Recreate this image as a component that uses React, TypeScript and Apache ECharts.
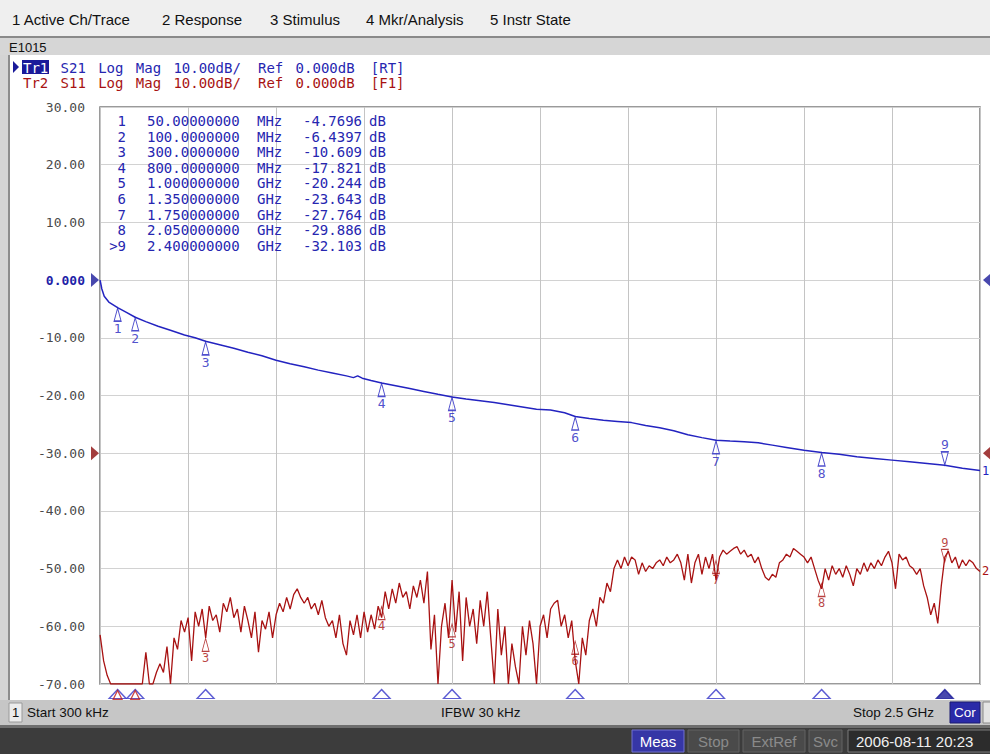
import React, { useEffect, useRef } from "react";
import * as echarts from "echarts";

// ---------------- data ----------------
const START_MHZ = 0.3;
const STOP_MHZ = 2500;

const S21_FREQ_MHZ = [
  0.3, 5, 12, 25, 50, 75, 100, 130, 165, 200, 240, 270, 300, 340, 380, 420, 460, 500, 540, 580,
  620, 660, 700, 720, 732, 745, 770, 800, 840, 880, 920, 960, 1000, 1040, 1080, 1120, 1160, 1200,
  1240, 1280, 1320, 1350, 1390, 1430, 1470, 1510, 1550, 1590, 1630, 1670, 1710, 1750, 1790, 1830,
  1870, 1910, 1950, 2000, 2050, 2100, 2150, 2200, 2250, 2300, 2350, 2400, 2450, 2500,
];
const S21_DB = [
  0, -1.5, -2.8, -3.8, -4.7696, -5.6, -6.4397, -7.2, -8.0, -8.7, -9.5, -10.0, -10.609, -11.2, -11.8,
  -12.5, -13.1, -13.9, -14.5, -15.0, -15.6, -16.1, -16.6, -16.9, -16.6, -17.0, -17.4, -17.821, -18.3,
  -18.8, -19.3, -19.8, -20.244, -20.6, -20.9, -21.2, -21.6, -22.0, -22.4, -22.5, -23.0, -23.643, -24.0,
  -24.3, -24.5, -24.7, -25.2, -25.6, -26.1, -26.8, -27.3, -27.764, -27.9, -28.0, -28.2, -28.6, -29.0,
  -29.5, -29.886, -30.2, -30.6, -30.9, -31.2, -31.5, -31.8, -32.103, -32.6, -33.0,
];

// S11 sweep values (251 points, 0.3 MHz .. 2.5 GHz)
const S11_DB = [
  -61.5, -66, -68.5, -70, -70, -70, -70, -70, -70, -70,
  -70, -70, -70, -64.5, -70, -70, -68, -66.5, -68, -63.5,
  -70, -62, -64, -59, -61, -58.5, -66, -57.5, -60, -57,
  -62, -56.5, -59, -58, -61, -56, -57.5, -55, -58.5, -57,
  -61, -56.5, -59, -62, -57.5, -64.5, -59, -60.5, -57.5, -62,
  -58, -56, -57.5, -55, -57, -54.5, -53.5, -55, -56, -55,
  -57, -56, -58, -55.5, -58.5, -60, -59, -62, -58, -63,
  -65, -59, -61.5, -58, -62, -57.5, -61, -58, -60.5, -56.5,
  -58.5, -54, -57, -53.5, -56, -52.5, -55, -54, -57, -53,
  -55, -52, -56, -50.5, -64, -58, -70, -60, -56, -62,
  -52, -61, -54, -66, -55, -60, -57, -63, -55.5, -60,
  -54, -62, -70, -57, -65, -60, -70, -63, -67, -70,
  -60, -65, -59, -63, -70, -60, -58, -62, -57, -56,
  -55.5, -60, -58, -62, -59, -66, -70, -62, -65, -59,
  -57, -60, -55, -56, -52.5, -54, -50, -48.5, -50, -48,
  -49.5, -48, -48.5, -51, -49, -50.5, -49.5, -50, -49, -48.5,
  -49.5, -48, -49, -48.5, -47.5, -49, -52, -47.5, -52.5, -49,
  -47.5, -51, -48, -50, -47.5, -52, -48, -46.8, -47.5, -47,
  -46.5, -46.2, -47.5, -46.8, -48, -47.5, -49, -48, -50, -51.5,
  -52, -51, -51.5, -49, -48.5, -47.5, -48, -46.5, -47, -47.5,
  -48, -49, -48, -50, -52, -53.5, -50, -52, -49.5, -51,
  -50, -51.5, -49.5, -51, -53, -50, -51, -49, -50.5, -49,
  -50, -48.5, -49.5, -48, -47, -49, -53.5, -47.5, -48.5, -48,
  -49.5, -50, -51, -50, -53, -55, -58, -56, -59.5, -53,
  -48, -47, -49, -48, -50, -48.5, -49.5, -48.5, -49, -50, -50.5,
];

const MARKER_IDS = ["1", "2", "3", "4", "5", "6", "7", "8", ">9"];
const MARKER_FREQ_MHZ = [50, 100, 300, 800, 1000, 1350, 1750, 2050, 2400];
const S21_MARKER_DB = [-4.7696, -6.4397, -10.609, -17.821, -20.244, -23.643, -27.764, -29.886, -32.103];
const S11_MARKER_DB = [null, null, -62, -56.5, -59.5, -62.5, -48.5, -52.5, -49];

const Y_MIN = -70;
const Y_MAX = 30;
const Y_STEP = 10;
const X_STEP = 250;

const MENU_LABELS = ["1 Active Ch/Trace", "2 Response", "3 Stimulus", "4 Mkr/Analysis", "5 Instr State"];
const WINDOW_TITLE = "E1015";
const TR1_TOKENS = ["Tr1", "S21", "Log", "Mag", "10.00dB/", "Ref", "0.000dB", "[RT]"];
const TR2_TOKENS = ["Tr2", "S11", "Log", "Mag", "10.00dB/", "Ref", "0.000dB", "[F1]"];
const STATUS_CH = "1";
const STATUS_START = "Start 300 kHz";
const STATUS_IFBW = "IFBW 30 kHz";
const STATUS_STOP = "Stop 2.5 GHz";
const STATUS_COR = "Cor";
const BOTTOM_BUTTONS = ["Meas", "Stop", "ExtRef", "Svc"];
const DATE_TEXT = "2006-08-11 20:23";

// ---------------- layout / style ----------------
const MENU_X = [12, 162, 270, 366, 490];
const TOKEN_X = [23, 60.6, 98.2, 135.8, 173.4, 258, 295.6, 370.8];
const BTN_X = [632, 688, 743, 809];
const BTN_W = [52, 51, 62, 33];
const BLUE = "#2323c0";
const TXT_BLUE = "#2626b0";
const RED = "#a81212";
const MONO = '"DejaVu Sans Mono", monospace';
const UI = '"Liberation Sans", Arial, sans-serif';

function fmtFreq(mhz: number) {
  return mhz >= 1000 ? (mhz / 1000).toPrecision(10) : mhz.toPrecision(10);
}

export default function App() {
  const ref = useRef<HTMLDivElement>(null);

  useEffect(() => {
    if (!ref.current) return;
    const chart = echarts.init(ref.current, null, { renderer: "svg" });

    const n = S11_DB.length;
    const s11Data = S11_DB.map((v, i) => [START_MHZ + (i * (STOP_MHZ - START_MHZ)) / (n - 1), v]);
    const s21Data = S21_FREQ_MHZ.map((f, i) => [f, S21_DB[i]]);

    const mk = (f: number, v: number, i: number) => {
      const last = i === MARKER_FREQ_MHZ.length - 1;
      return {
        value: [f, v],
        symbolRotate: last ? 180 : 0,
        symbolOffset: last ? [0, -7] : [0, 7],
        label: { position: last ? "top" : "bottom", formatter: MARKER_IDS[i].replace(">", "") },
      };
    };
    const s21Markers = MARKER_FREQ_MHZ.map((f, i) => mk(f, S21_MARKER_DB[i], i));
    const s11Markers: any[] = [];
    MARKER_FREQ_MHZ.forEach((f, i) => {
      const v = S11_MARKER_DB[i];
      if (v !== null) s11Markers.push(mk(f, v, i));
    });
    const stimMarkers = MARKER_FREQ_MHZ.map((f, i) => {
      const active = i === MARKER_FREQ_MHZ.length - 1;
      return {
        value: [f, Y_MIN],
        itemStyle: active ? { color: "#1a1a9a", borderColor: "#1a1a9a" } : undefined,
      };
    });
    const offScale = MARKER_FREQ_MHZ.filter((_, i) => S11_MARKER_DB[i] === null).map((f) => [f, Y_MIN]);

    const txt = (text: string, x: number, y: number, fill: string, font: string, align = "left") => ({
      type: "text",
      z: 60,
      style: { text, x, y, fill, font, align, textAlign: align, verticalAlign: "middle", textVerticalAlign: "middle" },
    });
    const rect = (x: number, y: number, w: number, h: number, fill: string, stroke?: string, z = -50) => ({
      type: "rect",
      z,
      shape: { x, y, width: w, height: h },
      style: { fill, stroke: stroke || "none", lineWidth: 1 },
    });

    const TABLE_FONT = `14px ${MONO}`;
    const tableTexts: any[] = [];
    MARKER_IDS.forEach((id, i) => {
      const y = 121 + i * 15.6;
      const f = MARKER_FREQ_MHZ[i];
      tableTexts.push(txt(id, 126, y, TXT_BLUE, TABLE_FONT, "right"));
      tableTexts.push(txt(fmtFreq(f), 147, y, TXT_BLUE, TABLE_FONT));
      tableTexts.push(txt(f >= 1000 ? "GHz" : "MHz", 257, y, TXT_BLUE, TABLE_FONT));
      tableTexts.push(txt(S21_MARKER_DB[i].toPrecision(5), 362, y, TXT_BLUE, TABLE_FONT, "right"));
      tableTexts.push(txt("dB", 369, y, TXT_BLUE, TABLE_FONT));
    });

    const HEAD_FONT = `14px ${MONO}`;
    const headTexts: any[] = [];
    TR1_TOKENS.forEach((t, i) => headTexts.push(txt(t, TOKEN_X[i], 67.5, i === 0 ? "#ffffff" : TXT_BLUE, HEAD_FONT)));
    TR2_TOKENS.forEach((t, i) => headTexts.push(txt(t, TOKEN_X[i], 82.5, RED, HEAD_FONT)));

    const graphics: any[] = [
      rect(0, 0, 990, 754, "#ffffff", undefined, -100),
      rect(0, 0, 990, 36, "#efefef"),
      rect(0, 36, 990, 2, "#8a8a8a"),
      rect(0, 38, 990, 17, "#d6d6d6"),
      rect(0, 55, 8, 645, "#d4d4d4"),
      rect(8, 55, 2, 645, "#8c8c8c"),
      rect(0, 700, 990, 25, "#c6c6c6", undefined, 10),
      rect(9, 703, 13, 19, "#ececec", "#9a9a9a", 11),
      rect(950, 702, 30, 21, "#2a2aa8", "#1a1a70", 11),
      rect(983, 702, 12, 21, "#e4e4e4", "#8a8a8a", 11),
      rect(0, 725, 990, 3, "#6e6e6e", undefined, 10),
      rect(0, 728, 990, 26, "#3c3c3c", undefined, 10),
      rect(848, 730, 145, 22, "#2c2c2c", "#7a7a7a", 11),
      ...BOTTOM_BUTTONS.map((b, i) =>
        rect(BTN_X[i], 730, BTN_W[i], 22, i === 0 ? "#3636a6" : "#4a4a4a", i === 0 ? "#7070d0" : "#626262", 11)
      ),
      ...MENU_LABELS.map((m, i) => txt(m, MENU_X[i], 19, "#111111", `15px ${UI}`)),
      txt(WINDOW_TITLE, 9, 47, "#111111", `13px ${UI}`),
      {
        type: "polygon",
        z: 60,
        shape: { points: [[13, 61], [19, 67], [13, 73]] },
        style: { fill: "#1a1a9a" },
      },
      rect(22, 60, 27, 14, "#1a1a9a", undefined, 55),
      ...headTexts,
      ...tableTexts,
      txt(STATUS_CH, 15.5, 712.5, "#111111", `13px ${UI}`, "center"),
      txt(STATUS_START, 27, 712.5, "#111111", `13.5px ${UI}`),
      txt(STATUS_IFBW, 441, 712.5, "#111111", `13.5px ${UI}`),
      txt(STATUS_STOP, 853, 712.5, "#111111", `13.5px ${UI}`),
      txt(STATUS_COR, 965, 712.5, "#ffffff", `13.5px ${UI}`, "center"),
      ...BOTTOM_BUTTONS.map((b, i) =>
        txt(b, BTN_X[i] + BTN_W[i] / 2, 741.5, i === 0 ? "#ffffff" : "#8a8a8a", `15px ${UI}`, "center")
      ),
      txt(DATE_TEXT, 856, 741.5, "#f0f0f0", `15px ${UI}`),
    ];

    const option: any = {
      animation: false,
      backgroundColor: "transparent",
      grid: {
        left: 100,
        top: 107,
        right: 10,
        bottom: 70,
        show: true,
        borderColor: "#7a7a7a",
        borderWidth: 1.5,
        backgroundColor: "transparent",
      },
      xAxis: {
        type: "value",
        min: 0,
        max: STOP_MHZ,
        interval: X_STEP,
        axisLabel: { show: false },
        axisTick: { show: false },
        axisLine: { show: false },
        splitLine: { show: true, lineStyle: { color: "#c4c4c4", width: 1 } },
      },
      yAxis: {
        type: "value",
        min: Y_MIN,
        max: Y_MAX,
        interval: Y_STEP,
        axisTick: { show: false },
        axisLine: { show: false },
        splitLine: { show: true, lineStyle: { color: "#d2d2d2", width: 1 } },
        axisLabel: {
          margin: 15,
          color: "#4a4a4a",
          fontFamily: MONO,
          fontSize: 13,
          formatter: (v: number) => (v === 0 ? "{r|0.000}" : v.toFixed(2)),
          rich: { r: { color: "#1f1fa8", fontFamily: MONO, fontSize: 13, fontWeight: "bold" } },
        },
      },
      graphic: { elements: graphics },
      series: [
        {
          name: "S11",
          type: "line",
          data: s11Data,
          showSymbol: false,
          symbol: "none",
          lineStyle: { color: RED, width: 1.3 },
          endLabel: { show: true, formatter: "2", color: RED, fontFamily: MONO, fontSize: 12, distance: 2 },
          z: 3,
        },
        {
          name: "S21",
          type: "line",
          data: s21Data,
          showSymbol: false,
          symbol: "none",
          lineStyle: { color: BLUE, width: 1.5 },
          endLabel: { show: true, formatter: "1", color: BLUE, fontFamily: MONO, fontSize: 12, distance: 2 },
          z: 4,
        },
        {
          name: "S11 markers",
          type: "scatter",
          data: s11Markers,
          symbol: "triangle",
          symbolSize: [7, 13],
          clip: false,
          itemStyle: { color: "rgba(255,255,255,0)", borderColor: RED, borderWidth: 1 },
          label: { show: true, color: RED, fontFamily: MONO, fontSize: 12, distance: 0 },
          z: 5,
        },
        {
          name: "S21 markers",
          type: "scatter",
          data: s21Markers,
          symbol: "triangle",
          symbolSize: [7, 13],
          clip: false,
          itemStyle: { color: "rgba(255,255,255,0.85)", borderColor: BLUE, borderWidth: 1.2 },
          label: { show: true, color: BLUE, fontFamily: MONO, fontSize: 13, distance: 0 },
          z: 6,
        },
        {
          name: "Stimulus markers",
          type: "scatter",
          data: stimMarkers,
          symbol: "triangle",
          symbolSize: [17, 9],
          symbolOffset: [0, 10],
          clip: false,
          itemStyle: { color: "#ffffff", borderColor: "#3434c8", borderWidth: 1.3 },
          z: 7,
        },
        {
          name: "S11 off-scale",
          type: "scatter",
          data: offScale,
          symbol: "triangle",
          symbolSize: [9, 9],
          symbolOffset: [0, 11],
          clip: false,
          itemStyle: { color: "rgba(255,255,255,0)", borderColor: "#c01818", borderWidth: 1.3 },
          z: 8,
        },
        {
          name: "Ref left",
          type: "scatter",
          data: [
            { value: [0, 0], itemStyle: { color: "#1a1a9a" } },
            { value: [0, -30], itemStyle: { color: "#8c0c0c" } },
          ],
          symbol: "triangle",
          symbolSize: [14, 8],
          symbolRotate: -90,
          symbolOffset: [-5, 0],
          clip: false,
          z: 9,
        },
        {
          name: "Ref right",
          type: "scatter",
          data: [
            { value: [STOP_MHZ, 0], itemStyle: { color: "#1a1a9a" } },
            { value: [STOP_MHZ, -30], itemStyle: { color: "#8c0c0c" } },
          ],
          symbol: "triangle",
          symbolSize: [14, 8],
          symbolRotate: 90,
          symbolOffset: [7, 0],
          clip: false,
          z: 9,
        },
      ],
    };

    chart.setOption(option);
    return () => chart.dispose();
  }, []);

  return (
    <div
      ref={ref}
      style={{ position: "absolute", left: 0, top: 0, width: 990, height: 754, background: "#ffffff" }}
    />
  );
}
